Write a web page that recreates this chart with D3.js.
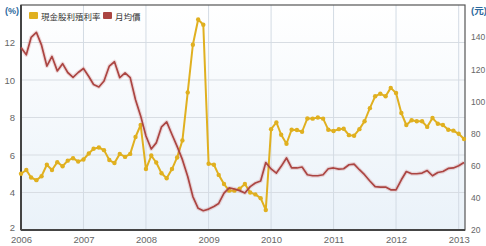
<!DOCTYPE html>
<html>
<head>
<meta charset="utf-8">
<script src="https://cdn.jsdelivr.net/npm/d3@7"></script>
<style>
  body { margin: 0; background: #fff; }
  svg { display: block; font-family: "Liberation Sans", Arial, "Noto Sans CJK TC", sans-serif; }
</style>
</head>
<body>
<svg id="chart" width="486" height="246"></svg>
<script>
// monthly data, Jan 2006 .. Feb 2013
const startMonth = new Date(2006, 0, 1);

const yieldPct = [
  5.0, 5.2, 4.8, 4.66, 4.87, 5.48, 5.2, 5.62, 5.4, 5.7, 5.83, 5.65,
  5.76, 6.08, 6.33, 6.4, 6.26, 5.73, 5.57, 6.06, 5.9, 6.06, 6.96, 7.6,
  5.25, 5.97, 5.6, 5.03, 4.76, 5.25, 5.87, 6.78, 9.34, 11.88, 13.23, 12.95,
  5.53, 5.48, 4.94, 4.45, 4.1, 4.1, 4.2, 4.45, 4.0, 3.9, 3.7, 3.07,
  7.38, 7.74, 7.08, 6.6, 7.35, 7.33, 7.24, 7.95, 7.94, 8.0, 7.94, 7.35,
  7.28, 7.38, 7.4, 7.06, 7.03, 7.38, 7.8, 8.5, 9.13, 9.27, 9.13, 9.58,
  9.31, 8.24, 7.6, 7.85, 7.8, 7.8, 7.5, 7.97, 7.67, 7.6, 7.35, 7.3,
  7.13, 6.85
];

const avgPrice = [
  133.5, 129, 139.8, 143, 135, 122, 128, 119, 123.5, 118, 115, 118,
  120.5, 115.5, 110.5, 109, 112.7, 122, 124.7, 114.8, 117.7, 114.8, 101, 91,
  78.5, 70.4, 74.2, 84.2, 87.3, 79.4, 72, 63.75, 53.3, 40.8, 33.5, 32,
  33, 34.6, 36.5, 43, 46.2, 45.5, 44.5, 43, 47, 49.2, 50.5, 62,
  58, 55.4, 59.6, 64.8, 58.6, 58.6, 59.2, 54.4, 53.75, 53.75, 54.4, 58.1,
  58.6, 57.9, 58.1, 60.6, 61, 57.5, 54.4, 50.5, 47, 46.7, 46.7, 45,
  45, 51.25, 56.4, 55, 55, 55.4, 57, 53.75, 55.8, 56.4, 58.3, 58.6,
  60, 62
];

const seriesNames = ["現金股利殖利率", "月均價"];
const leftTicks = [2, 4, 6, 8, 10, 12];
const rightTicks = [20, 40, 60, 80, 100, 120, 140];
const yearTicks = [2006, 2007, 2008, 2009, 2010, 2011, 2012, 2013];

const colors = { yield: "#e0b020", price: "#ab4542" };

const margin = { top: 5, right: 21, bottom: 16, left: 21 };
const W = 486, H = 246;
const width = W - margin.left - margin.right;
const height = H - margin.top - margin.bottom;

const months = yieldPct.map((d, i) => new Date(2006, i, 1));

const svg = d3.select("#chart");

const defs = svg.append("defs");
const grad = defs.append("linearGradient")
  .attr("id", "bg").attr("x1", 0).attr("y1", 0).attr("x2", 0).attr("y2", 1);
grad.append("stop").attr("offset", "0%").attr("stop-color", "#ffffff");
grad.append("stop").attr("offset", "100%").attr("stop-color", "#eaf2f9");

const g = svg.append("g")
  .attr("transform", "translate(" + margin.left + "," + margin.top + ")");

const x = d3.scaleTime()
  .domain([startMonth, months[months.length - 1]])
  .range([0, width - 1]);
const yL = d3.scaleLinear().domain([2, 14]).range([height, 0]);
const yR = d3.scaleLinear().domain([20, 160]).range([height, 0]);

g.append("rect")
  .attr("width", width).attr("height", height)
  .attr("fill", "url(#bg)");

// grid
g.append("g").selectAll("line.h")
  .data(leftTicks.slice(1))
  .enter().append("line")
  .attr("x1", 0).attr("x2", width)
  .attr("y1", d => yL(d)).attr("y2", d => yL(d))
  .attr("stroke", "#d8dde3").attr("stroke-width", 1);

g.append("g").selectAll("line.v")
  .data(yearTicks.slice(1))
  .enter().append("line")
  .attr("x1", d => x(new Date(d, 0, 1))).attr("x2", d => x(new Date(d, 0, 1)))
  .attr("y1", 0).attr("y2", height)
  .attr("stroke", "#d3dbe4").attr("stroke-width", 1);

// frame
g.append("rect")
  .attr("width", width).attr("height", height)
  .attr("fill", "none").attr("stroke", "#555").attr("stroke-width", 1.2);
g.append("line").attr("x1", 0).attr("x2", 0).attr("y1", 0).attr("y2", height)
  .attr("stroke", "#444").attr("stroke-width", 2);
g.append("line").attr("x1", 0).attr("x2", width).attr("y1", height).attr("y2", height)
  .attr("stroke", "#444").attr("stroke-width", 2);

// axes
const axL = g.append("g").call(d3.axisLeft(yL).tickValues(leftTicks).tickSize(0).tickPadding(6));
const axR = g.append("g").attr("transform", "translate(" + width + ",0)")
  .call(d3.axisRight(yR).tickValues(rightTicks).tickSize(0).tickPadding(6));
const axB = g.append("g").attr("transform", "translate(0," + height + ")")
  .call(d3.axisBottom(x).tickValues(yearTicks.map(y => new Date(y, 0, 1)))
    .tickFormat(d3.timeFormat("%Y")).tickSize(0).tickPadding(6));

[axL, axB].forEach(a => {
  a.select(".domain").remove();
  a.selectAll("text").attr("fill", "#666").style("font-size", "9.5px");
});
axR.select(".domain").remove();
axR.selectAll("text").attr("fill", "#666").style("font-size", "8.5px");
axL.selectAll(".tick").filter(d => d === 2).select("text").attr("dy", "0.1em");

svg.append("text").attr("x", 5).attr("y", 14)
  .attr("fill", "#2e6a9e").style("font-size", "9px").style("font-weight", "bold")
  .text("(%)");
svg.append("text").attr("x", 471).attr("y", 14)
  .attr("fill", "#2e6a9e").style("font-size", "9.5px").style("font-weight", "bold")
  .text("(元)");

// lines
const lineYield = d3.line()
  .x((d, i) => x(months[i]))
  .y(d => yL(d));
const linePrice = d3.line()
  .x((d, i) => x(months[i]))
  .y(d => yR(d));

g.append("path").datum(yieldPct)
  .attr("d", lineYield)
  .attr("fill", "none").attr("stroke", colors.yield).attr("stroke-width", 2)
  .attr("stroke-linejoin", "round");

g.selectAll("circle.dot")
  .data(yieldPct)
  .enter().append("circle")
  .attr("cx", (d, i) => x(months[i]))
  .attr("cy", d => yL(d))
  .attr("r", 2.2)
  .attr("fill", colors.yield);

g.append("path").datum(avgPrice)
  .attr("d", linePrice)
  .attr("fill", "none").attr("stroke", "rgba(190,70,70,0.18)").attr("stroke-width", 4)
  .attr("stroke-linejoin", "round");
g.append("path").datum(avgPrice)
  .attr("d", linePrice)
  .attr("fill", "none").attr("stroke", colors.price).attr("stroke-width", 1.7)
  .attr("stroke-linejoin", "round");

// legend
const legend = svg.append("g").attr("transform", "translate(29,11)");
const legItems = [
  { name: seriesNames[0], color: colors.yield, x: 0 },
  { name: seriesNames[1], color: colors.price, x: 74 }
];
legItems.forEach(it => {
  legend.append("rect").attr("x", it.x).attr("y", 1).attr("width", 9).attr("height", 7)
    .attr("rx", 1).attr("fill", it.color);
  legend.append("text").attr("x", it.x + 12).attr("y", 8.5)
    .attr("fill", "#333").style("font-size", "8.5px")
    .style("font-family", "'Noto Sans CJK TC', sans-serif")
    .text(it.name);
});
</script>
</body>
</html>
